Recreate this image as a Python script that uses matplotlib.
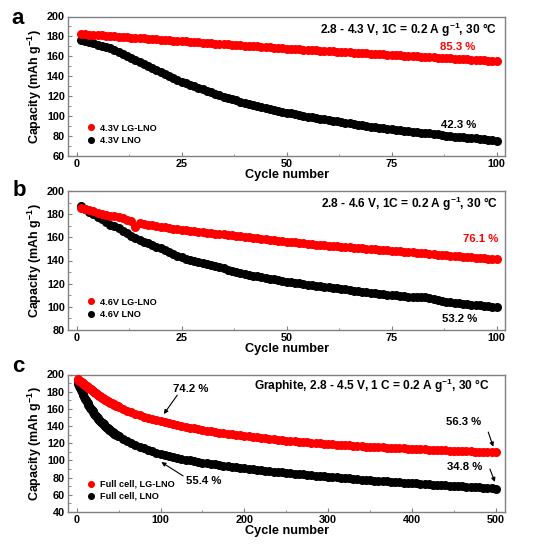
import matplotlib
matplotlib.use("Agg")
import matplotlib.pyplot as plt
from matplotlib.ticker import MultipleLocator

plt.rcParams['font.family'] = ['Liberation Sans', 'DejaVu Sans']
plt.rcParams['font.weight'] = 'bold'
plt.rcParams['mathtext.default'] = 'regular'

# ---------------- data ----------------
cycles_ab = list(range(1, 101))

a_lglno = [182.5, 182.2, 181.9, 181.6, 181.3, 181.0, 180.7, 180.4, 180.1, 179.8,
           179.5, 179.2, 178.9, 178.6, 178.3, 178.0, 177.7, 177.4, 177.1, 176.8,
           176.5, 176.2, 175.9, 175.6, 175.3, 175.0, 174.7, 174.4, 174.1, 173.8,
           173.5, 173.2, 172.9, 172.6, 172.3, 172.0, 171.7, 171.4, 171.1, 170.8,
           170.5, 170.2, 169.9, 169.6, 169.3, 169.0, 168.7, 168.4, 168.1, 167.8,
           167.5, 167.3, 167.0, 166.8, 166.5, 166.3, 166.0, 165.8, 165.5, 165.3,
           165.0, 164.8, 164.5, 164.3, 164.0, 163.8, 163.5, 163.3, 163.0, 162.8,
           162.5, 162.3, 162.0, 161.8, 161.5, 161.3, 161.0, 160.8, 160.5, 160.3,
           160.0, 159.8, 159.5, 159.3, 159.0, 158.8, 158.5, 158.3, 158.0, 157.8,
           157.5, 157.3, 157.0, 156.8, 156.5, 156.3, 156.0, 155.8, 155.6, 155.5]

a_lno = [176.6, 175.8, 174.6, 173.2, 171.8, 170.5, 169.2, 168.0, 166.5, 164.8,
         162.8, 160.7, 158.5, 156.2, 154.0, 152.0, 150.0, 148.2, 146.4, 144.6,
         142.6, 140.6, 138.6, 136.6, 134.7, 133.1, 131.5, 130.0, 128.5, 127.0,
         125.5, 124.0, 122.5, 121.0, 119.6, 118.3, 117.0, 115.7, 114.4, 113.1,
         112.0, 111.0, 110.0, 109.0, 108.0, 107.1, 106.2, 105.3, 104.4, 103.5,
         102.7, 101.9, 101.1, 100.3, 99.5, 98.8, 98.2, 97.5, 96.9, 96.2,
         95.5, 94.8, 94.2, 93.5, 92.8, 92.1, 91.5, 90.8, 90.2, 89.5,
         89.0, 88.4, 87.9, 87.3, 86.8, 86.3, 85.9, 85.4, 85.0, 84.5,
         84.0, 83.5, 83.1, 82.6, 82.1, 81.6, 81.0, 80.5, 79.9, 79.4,
         79.1, 78.8, 78.4, 78.1, 77.8, 77.3, 76.8, 76.4, 75.9, 75.4]

b_lglno = [185.6, 184.5, 183.5, 182.4, 181.4, 180.5, 179.6, 178.8, 178.0, 177.2,
           176.3, 175.3, 174.3, 168.8, 172.2, 171.5, 170.9, 170.3, 169.8, 169.2,
           168.6, 168.0, 167.4, 166.9, 166.3, 165.9, 165.5, 165.1, 164.7, 164.3,
           164.0, 163.6, 163.3, 162.9, 162.6, 162.2, 161.8, 161.4, 161.0, 160.6,
           160.2, 159.7, 159.3, 158.9, 158.5, 158.0, 157.6, 157.2, 156.7, 156.3,
           155.9, 155.6, 155.2, 154.9, 154.5, 154.2, 153.8, 153.5, 153.1, 152.8,
           152.5, 152.2, 152.0, 151.7, 151.4, 151.1, 150.8, 150.6, 150.3, 150.0,
           149.7, 149.4, 149.1, 148.8, 148.5, 148.2, 147.9, 147.6, 147.3, 147.0,
           146.7, 146.4, 146.1, 145.8, 145.5, 145.1, 144.8, 144.5, 144.2, 143.9,
           143.6, 143.3, 143.0, 142.7, 142.5, 142.2, 141.9, 141.6, 141.3, 141.1]

b_lno = [187.0, 184.3, 182.0, 179.8, 177.8, 175.5, 173.2, 171.0, 169.4, 167.8,
         165.6, 163.5, 161.5, 159.6, 157.7, 156.2, 154.8, 153.3, 151.9, 150.5,
         148.9, 147.3, 145.8, 144.2, 142.7, 141.6, 140.6, 139.6, 138.6, 137.6,
         136.7, 135.8, 134.9, 134.1, 133.2, 132.2, 131.2, 130.3, 129.3, 128.3,
         127.6, 127.0, 126.3, 125.7, 125.0, 124.3, 123.7, 123.0, 122.4, 121.7,
         121.2, 120.7, 120.2, 119.7, 119.2, 118.8, 118.3, 117.8, 117.3, 116.8,
         116.3, 115.9, 115.4, 115.0, 114.5, 114.0, 113.6, 113.1, 112.7, 112.2,
         111.8, 111.4, 111.0, 110.6, 110.2, 109.8, 109.4, 109.0, 108.6, 108.3,
         108.6, 108.5, 108.1, 107.3, 106.5, 105.8, 105.2, 104.6, 104.1, 103.6,
         103.2, 102.8, 102.4, 102.0, 101.6, 101.2, 100.8, 100.4, 100.0, 99.6]

cycles_c = list(range(1, 51)) + list(range(55, 501, 5))

c_lglno = [194.2, 193.6, 192.9, 192.2, 191.5, 190.7, 190.0, 189.2, 188.5, 187.7,
           187.0, 186.2, 185.5, 184.8, 184.0, 183.3, 182.6, 181.9, 181.2, 180.5,
           179.7, 178.9, 178.1, 177.3, 176.5, 175.8, 175.2, 174.5, 173.9, 173.2,
           172.6, 172.0, 171.4, 170.8, 170.2, 169.6, 169.0, 168.5, 167.9, 167.4,
           166.9, 166.3, 165.8, 165.3, 164.8, 164.3, 163.8, 163.3, 162.9, 162.4,
           160.2, 158.1, 156.2, 154.4,
           152.7, 151.1, 149.6, 148.2, 146.9, 145.6, 144.4, 143.3, 142.2, 141.1,
           140.1, 139.1, 138.2, 137.3, 136.4, 135.6, 134.8, 134.0, 133.2, 132.5,
           131.8, 131.1, 130.4, 129.8, 129.2, 128.6, 128.0, 127.4, 126.8, 126.3,
           125.7, 125.2, 124.7, 124.2, 123.7, 123.2, 122.7, 122.3, 121.8, 121.4,
           121.0, 120.6, 120.2, 119.8, 119.4, 119.0, 118.7, 118.4, 118.0, 117.7,
           117.4, 117.1, 116.8, 116.5, 116.2, 115.9, 115.6, 115.4, 115.1, 114.9,
           114.6, 114.4, 114.1, 113.9, 113.6, 113.4, 113.2, 113.0, 112.8, 112.5,
           112.3, 112.1, 111.9, 111.7, 111.5, 111.3, 111.1, 110.9, 110.7, 110.5,
           110.3, 110.1, 109.9, 109.7, 109.5, 109.3]

c_lno = [192.0, 189.5, 187.0, 184.6, 182.3, 180.0, 177.8, 175.7, 173.7, 171.8,
         169.9, 168.1, 166.4, 164.7, 163.1, 161.5, 160.0, 158.6, 157.2, 155.8,
         154.5, 153.2, 151.9, 150.7, 149.5, 148.4, 147.2, 146.1, 145.0, 144.0,
         143.0, 142.0, 141.1, 140.1, 139.2, 138.3, 137.5, 136.6, 135.8, 135.0,
         134.2, 133.5, 132.7, 132.0, 131.3, 130.6, 129.9, 129.3, 128.6, 128.0,
         125.1, 122.5, 120.1, 117.9,
         115.9, 114.0, 112.3, 110.7, 109.2, 107.8, 106.5, 105.3, 104.1, 103.0,
         102.0, 101.0, 100.1, 99.2, 98.4, 97.6, 96.8, 96.1, 95.4, 94.7,
         94.0, 93.4, 92.8, 92.2, 91.6, 91.0, 90.4, 89.8, 89.3, 88.7,
         88.2, 87.7, 87.1, 86.6, 86.1, 85.6, 85.1, 84.6, 84.2, 83.7,
         83.2, 82.8, 82.3, 81.9, 81.4, 81.0, 80.6, 80.2, 79.8, 79.4,
         79.0, 78.6, 78.2, 77.8, 77.4, 77.0, 76.6, 76.3, 75.9, 75.6,
         75.2, 74.9, 74.5, 74.2, 73.9, 73.5, 73.2, 72.9, 72.6, 72.3,
         72.0, 71.7, 71.4, 71.1, 70.8, 70.5, 70.2, 69.9, 69.6, 69.3,
         69.0, 68.7, 68.4, 68.0, 67.5, 67.0]

labels_a = ['4.3V LG-LNO', '4.3V LNO']
labels_b = ['4.6V LG-LNO', '4.6V LNO']
labels_c = ['Full cell, LG-LNO', 'Full cell, LNO']
titles = ['2.8 - 4.3 V, 1C = 0.2 A g$^{-1}$, 30 °C',
          '2.8 - 4.6 V, 1C = 0.2 A g$^{-1}$, 30 °C',
          'Graphite, 2.8 - 4.5 V, 1 C = 0.2 A g$^{-1}$, 30 °C']

# ---------------- figure ----------------
W, H = 554, 544
fig = plt.figure(figsize=(W / 100, H / 100), dpi=100)

def rect(top, bottom, left=68.3, right=505):
    return [left / W, 1 - bottom / H, (right - left) / W, (bottom - top) / H]

ax_a = fig.add_axes(rect(16.5, 156))
ax_b = fig.add_axes(rect(191, 330))
ax_c = fig.add_axes(rect(374.5, 512))

RED = '#ff0000'
MS = 6.5
spine_col = '#808080'

def style(ax, xlim, ylim, xmaj, xmin, ymaj, ymin):
    ax.set_xlim(*xlim)
    ax.set_ylim(*ylim)
    ax.xaxis.set_major_locator(MultipleLocator(xmaj))
    ax.xaxis.set_minor_locator(MultipleLocator(xmin))
    ax.yaxis.set_major_locator(MultipleLocator(ymaj))
    ax.yaxis.set_minor_locator(MultipleLocator(ymin))
    for s in ax.spines.values():
        s.set_color(spine_col)
        s.set_linewidth(1.0)
    ax.tick_params(which='major', direction='in', length=3, width=0.8,
                   color=spine_col, labelsize=7.8, pad=2.5)
    ax.tick_params(which='minor', direction='in', length=1.8, width=0.6,
                   color=spine_col)
    for lab in ax.get_xticklabels() + ax.get_yticklabels():
        lab.set_fontweight('bold')
    ax.set_xlabel('Cycle number', fontsize=9.2, fontweight='bold', labelpad=0)
    ax.set_ylabel('Capacity (mAh g$^{-1}$)', fontsize=9.0, fontweight='bold',
                  labelpad=2)

def draw(ax, x, y1, y2, labels):
    ax.plot(x, y2, 'o', color='black', ms=MS, mew=0, label=labels[1], zorder=3)
    ax.plot(x, y1, 'o', color=RED, ms=MS, mew=0, label=labels[0], zorder=4)
    h, l = ax.get_legend_handles_labels()
    ax.legend([h[1], h[0]], [l[1], l[0]], loc='lower left',
              bbox_to_anchor=(0.044, 0.08), frameon=False,
              handlelength=0.8, handletextpad=0.55, labelspacing=0.35,
              borderpad=0, borderaxespad=0, markerscale=0.78,
              prop={'weight': 'bold', 'size': 6.6})

# panel a
draw(ax_a, cycles_ab, a_lglno, a_lno, labels_a)
style(ax_a, (-2, 102), (60, 200), 25, 12.5, 20, 10)
ax_a.text(0.982, 0.905, titles[0], transform=ax_a.transAxes, ha='right',
          va='center', fontsize=8.6, fontweight='bold')
ax_a.text(0.931, 0.78, '85.3 %', transform=ax_a.transAxes, ha='right',
          va='center', fontsize=8.2, fontweight='bold', color=RED)
ax_a.text(0.934, 0.22, '42.3 %', transform=ax_a.transAxes, ha='right',
          va='center', fontsize=8.2, fontweight='bold', color='black')

# panel b
draw(ax_b, cycles_ab, b_lglno, b_lno, labels_b)
style(ax_b, (-2, 102), (80, 200), 25, 12.5, 20, 10)
ax_b.text(0.985, 0.905, titles[1], transform=ax_b.transAxes, ha='right',
          va='center', fontsize=8.6, fontweight='bold')
ax_b.text(0.985, 0.655, '76.1 %', transform=ax_b.transAxes, ha='right',
          va='center', fontsize=8.2, fontweight='bold', color=RED)
ax_b.text(0.936, 0.08, '53.2 %', transform=ax_b.transAxes, ha='right',
          va='center', fontsize=8.2, fontweight='bold', color='black')

# panel c
draw(ax_c, cycles_c, c_lglno, c_lno, labels_c)
style(ax_c, (-10, 511), (40, 200), 100, 50, 20, 10)
ax_c.text(0.965, 0.92, titles[2], transform=ax_c.transAxes, ha='right',
          va='center', fontsize=8.6, fontweight='bold')
arrow = dict(arrowstyle='-|>', color='black', lw=0.8, mutation_scale=6,
             shrinkA=0, shrinkB=0)
ax_c.annotate('', xy=(104, 154), xytext=(120, 176), arrowprops=arrow)
ax_c.text(136, 183, '74.2 %', ha='center', va='center', fontsize=8.2,
          fontweight='bold')
ax_c.annotate('', xy=(101, 98), xytext=(127, 82), arrowprops=arrow)
ax_c.text(151, 76, '55.4 %', ha='center', va='center', fontsize=8.2,
          fontweight='bold')
ax_c.annotate('', xy=(497, 116), xytext=(491, 133), arrowprops=arrow)
ax_c.text(462, 145, '56.3 %', ha='center', va='center', fontsize=8.2,
          fontweight='bold')
ax_c.annotate('', xy=(499, 75), xytext=(493, 90), arrowprops=arrow)
ax_c.text(463, 92, '34.8 %', ha='center', va='center', fontsize=8.2,
          fontweight='bold')

# panel letters
fig.text(18 / W, 1 - 18 / H, 'a', fontsize=16, fontweight='bold', ha='center', va='center')
fig.text(19 / W, 1 - 191 / H, 'b', fontsize=16, fontweight='bold', ha='center', va='center')
fig.text(18.5 / W, 1 - 366 / H, 'c', fontsize=16, fontweight='bold', ha='center', va='center')

fig.savefig('out.png', dpi=100)
